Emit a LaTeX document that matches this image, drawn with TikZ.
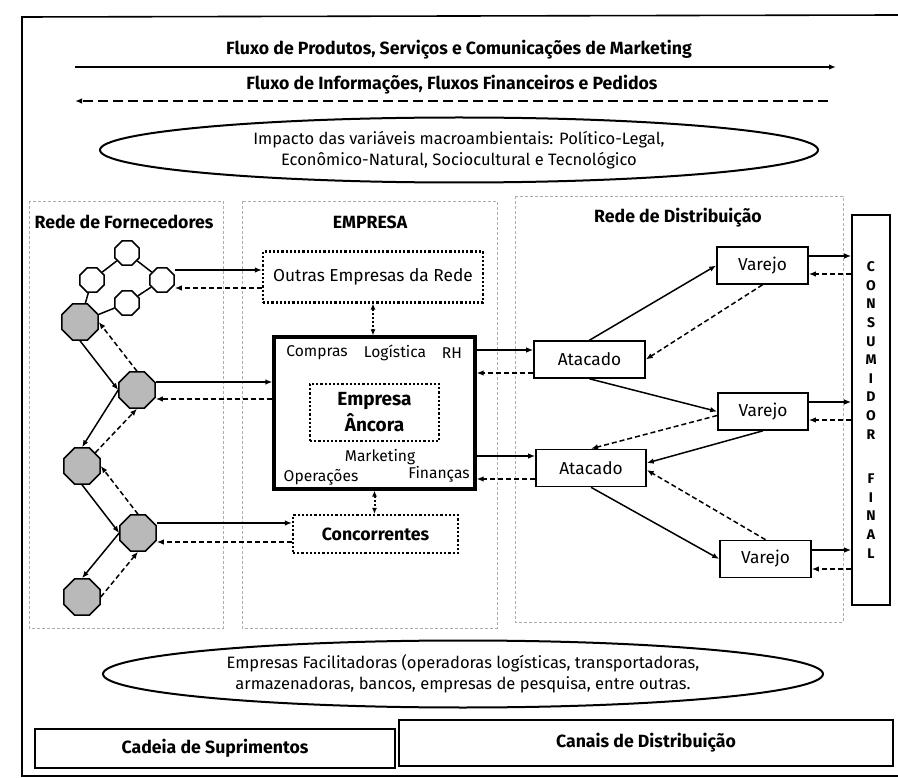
\documentclass[tikz,border=0pt]{standalone}
\usepackage{fontspec}
\setmainfont{Fira Sans}
\usepackage{tikz}
\usetikzlibrary{shapes,arrows.meta,positioning}

\begin{document}
\begin{tikzpicture}[x=1pt, y=-1pt,
        every node/.style={font=\fontsize{16.5}{21}\selectfont, inner sep=0pt},
        heading/.style={font=\bfseries\fontsize{17.7}{21}\selectfont},
        boxtext/.style={font=\fontsize{17.3}{21}\selectfont},
        part/.style={font=\fontsize{15.6}{19}\selectfont},
        box/.style={draw, line width=1.6pt, minimum height=37pt},
        dotbox/.style={draw, dotted, line width=2.2pt},
        column/.style={draw=gray!65, densely dashed, line width=0.6pt},
        supplier/.style={draw, line width=1.5pt, regular polygon, regular polygon sides=8, fill=gray!55, minimum size=39pt},
        subsupplier/.style={draw, line width=1.5pt, regular polygon, regular polygon sides=8, fill=white, minimum size=26pt},
        goods/.style={-{Latex[length=7pt, width=5.5pt]}, line width=1.5pt},
        info/.style={-{Latex[length=7pt, width=5.5pt]}, line width=1.5pt, dash pattern=on 5pt off 3pt},
        link/.style={{Latex[length=6pt, width=5pt]}-{Latex[length=6pt, width=5pt]}, line width=2pt, dotted}]
        \useasboundingbox (0,0) rectangle (898,778);

        % Define the frame
        \draw[line width=1.6pt] (898,15) -- (22,17) -- (22,776) -- (898,776);

        % Define the flows on top
        \node[heading] (prodflow) at (459,50) {Fluxo de Produtos, Serviços e Comunicações de Marketing};
        \coordinate (prodstart) at (75,67);
        \coordinate (prodend) at (836,67);
        \draw[goods, line width=2.4pt] (prodstart) -- (prodend);
        \node[heading] (infoflow) at (452,85) {Fluxo de Informações, Fluxos Financeiros e Pedidos};
        \coordinate (infostart) at (828,101);
        \coordinate (infoend) at (75,101);
        \draw[info, line width=2.4pt, dash pattern=on 10pt off 5pt] (infostart) -- (infoend);

        \node[draw, ellipse, line width=2pt, minimum width=718pt, minimum height=65pt, align=center] (macro) at (459,150)
            {Impacto das variáveis macroambientais: Político-Legal,\\Econômico-Natural, Sociocultural e Tecnológico};

        % Define the columns
        \draw[column] (29,201) rectangle (223,628);
        \draw[column] (242,201) rectangle (497,628);
        \draw[column] (515,196) rectangle (843,622);
        \node[heading] (forn) at (124,222) {Rede de Fornecedores};
        \node[heading] (empresa) at (370,222) {EMPRESA};
        \node[heading] (dist) at (678,218) {Rede de Distribuição};

        % Supplier network
        \node[subsupplier] (w1) at (127,253) {};
        \node[subsupplier] (w2) at (92,280) {};
        \node[subsupplier] (w3) at (162,280) {};
        \node[subsupplier] (w4) at (127,303) {};
        \node[supplier] (g1) at (80,322) {};
        \node[supplier] (g2) at (137,390) {};
        \node[supplier] (g3) at (82,466) {};
        \node[supplier] (g4) at (138,533) {};
        \node[supplier] (g5) at (82,597) {};
        \draw[line width=1.5pt] (w2) -- (w1) -- (w3) -- (w4);
        \draw[line width=1.5pt] (w2) -- (g1);
        \draw[line width=1.5pt] (w4) -- (g1);
        \draw[goods] (g1.south) -- (g2.west);
        \draw[info] (g2.north) -- (g1.east);
        \draw[goods] (g2.west) -- (g3.north);
        \draw[info] (g3.north east) -- (g2.south);
        \draw[goods] (g3.south) -- (g4.west);
        \draw[info] (g4.north) -- (g3.east);
        \draw[goods] (g4.west) -- (g5.north);
        \draw[info] (g5.east) -- (g4.south);

        % Company
        \node[dotbox, boxtext, minimum width=220pt, minimum height=51pt] (outras) at (373,277) {Outras Empresas da Rede};
        \node[draw, line width=3.2pt, minimum width=201pt, minimum height=152pt] (anc) at (374.5,413) {};
        \node[part] (compras) at (317,353) {Compras};
        \node[part] (logistica) at (395,353) {Logística};
        \node[part] (rh) at (452,353) {RH};
        \node[dotbox, minimum width=129pt, minimum height=57pt, align=center, font=\bfseries\fontsize{19}{26}\selectfont] (core) at (374.5,412.5) {Empresa\\Âncora};
        \node[part] (marketing) at (380,457) {Marketing};
        \node[part] (operacoes) at (321,477) {Operações};
        \node[part] (financas) at (439,474) {Finanças};
        \node[dotbox, heading, minimum width=165pt, minimum height=38pt] (conc) at (375.5,534) {Concorrentes};
        \draw[link] (outras.south) -- (outras.south |- anc.north);
        \draw[link] (anc.south) -- (anc.south |- conc.north);

        \draw[goods] ([yshift=10pt]w3.east) -- ([yshift=10pt]w3.east -| outras.west);
        \draw[info] ([yshift=-8pt]w3.east -| outras.west) -- ([yshift=-8pt]w3.east);
        \draw[goods] ([yshift=8pt]g2.east) -- ([yshift=8pt]g2.east -| anc.west);
        \draw[info] ([yshift=-9pt]g2.east -| anc.west) -- ([yshift=-9pt]g2.east);
        \draw[goods] ([yshift=10pt]g4.east) -- ([yshift=10pt]g4.east -| conc.west);
        \draw[info] ([yshift=-9pt]g4.east -| conc.west) -- ([yshift=-9pt]g4.east);

        % Distribution network
        \node[box, boxtext, minimum width=111pt] (at1) at (589.5,359.5) {Atacado};
        \node[box, boxtext, minimum width=110pt] (at2) at (591,468) {Atacado};
        \node[box, boxtext, minimum width=91pt] (v1) at (762.5,265.5) {Varejo};
        \node[box, boxtext, minimum width=90pt] (v2) at (763,411.5) {Varejo};
        \node[box, boxtext, minimum width=91pt] (v3) at (765.5,559) {Varejo};
        \node[box, minimum width=38pt, minimum height=390pt, align=center, font=\bfseries\fontsize{14}{18.6}\selectfont] (cons) at (871,410)
            {C\\O\\N\\S\\U\\M\\I\\D\\O\\R\\[26pt]F\\I\\N\\A\\L};

        \draw[goods] ([yshift=9.5pt]at1.west -| anc.east) -- ([yshift=9.5pt]at1.west);
        \draw[info] ([yshift=-13.5pt]at1.west) -- ([yshift=-13.5pt]at1.west -| anc.east);
        \draw[goods] ([yshift=12pt]at2.west -| anc.east) -- ([yshift=12pt]at2.west);
        \draw[info] ([yshift=-11pt]at2.west) -- ([yshift=-11pt]at2.west -| anc.east);

        \draw[goods] (at1.north) -- (v1.west);
        \draw[info] (v1.south) -- (at1.east);
        \draw[goods] (at1.south) -- (v2.west);
        \draw[info] ([yshift=-4pt]v2.west) -- (at2.north);
        \draw[goods] (v2.south) -- ([yshift=5pt]at2.east);
        \draw[info] (v3.north) -- ([yshift=-2pt]at2.east);
        \draw[goods] (at2.south) -- (v3.west);

        \foreach \v/\up/\down in {v1/9.5/8.5, v2/9.5/8.5, v3/9/10} {
            \draw[goods] ([yshift=\up pt]\v.east) -- ([yshift=\up pt]\v.east -| cons.west);
            \draw[info] ([yshift=-\down pt]\v.east -| cons.west) -- ([yshift=-\down pt]\v.east);
        }

        % Facilitators and bottom labels
        \node[draw, ellipse, line width=2pt, minimum width=720pt, minimum height=67pt, align=center] (facil) at (463,674)
            {Empresas Facilitadoras (operadoras logísticas, transportadoras,\\armazenadoras, bancos, empresas de pesquisa, entre outras.};
        \node[box, heading, minimum width=360pt, minimum height=39pt] (cadeia) at (215,748.5) {Cadeia de Suprimentos};
        \node[box, heading, minimum width=494pt, minimum height=46pt] (canais) at (646,743) {Canais de Distribuição};
    \end{tikzpicture}
\end{document}
